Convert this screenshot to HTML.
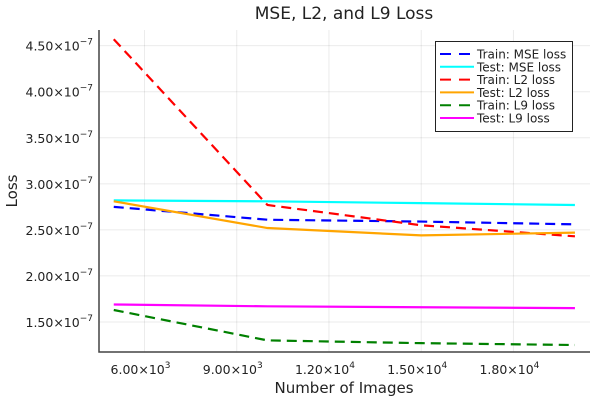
<!DOCTYPE html>
<html><head><meta charset="utf-8"><style>
body{margin:0;background:#fff;font-family:"DejaVu Sans","Liberation Sans",sans-serif}
svg text{fill:#222;font-family:"DejaVu Sans","Liberation Sans",sans-serif}
</style></head><body>
<svg id="c" width="600" height="400" xmlns="http://www.w3.org/2000/svg"></svg>
<script>
const xs=[5000,10000,15000,20000];
const trainMSE=[2.75,2.61,2.59,2.56];
const testMSE=[2.82,2.81,2.79,2.77];
const trainL2=[4.57,2.77,2.55,2.43];
const testL2=[2.81,2.52,2.44,2.47];
const trainL9=[1.63,1.30,1.27,1.25];
const testL9=[1.69,1.67,1.66,1.65];
const xTicks=[6000,9000,12000,15000,18000];
const xTickLabels=["6.00×10","9.00×10","1.20×10","1.50×10","1.80×10"];
const xTickExp=["3","3","4","4","4"];
const yTicks=[1.5,2.0,2.5,3.0,3.5,4.0,4.5];
const yTickLabels=["1.50×10","2.00×10","2.50×10","3.00×10","3.50×10","4.00×10","4.50×10"];
const L=99,R=590,T=30,B=352,xmin=4520,xmax=20490,ymin=1.174,ymax=4.67;
const X=v=>L+(v-xmin)/(xmax-xmin)*(R-L);
const Y=v=>B-(v-ymin)/(ymax-ymin)*(B-T);
const svg=document.getElementById('c');const NS='http://www.w3.org/2000/svg';
function mk(t,a,p){const e=document.createElementNS(NS,t);for(const k in a)e.setAttribute(k,a[k]);(p||svg).appendChild(e);return e;}
xTicks.forEach((v,i)=>{const g=mk('line',{x1:X(v),x2:X(v),y1:T,y2:B,stroke:'#000','stroke-opacity':0.08});

const t=mk('text',{x:X(v)-4,y:374,'font-size':12.5,'text-anchor':'middle'});t.textContent=xTickLabels[i];
const s=mk('tspan',{dy:-6,'font-size':9},t);s.textContent=xTickExp[i];
});
yTicks.forEach((v,i)=>{const g=mk('line',{x1:L,x2:R,y1:Y(v),y2:Y(v),stroke:'#000','stroke-opacity':0.08});

const t=mk('text',{x:93,y:Y(v)+5,'font-size':12.5,'text-anchor':'end'});t.textContent=yTickLabels[i];
const s=mk('tspan',{dy:-6,'font-size':9},t);s.textContent='−7';
});
const ax=mk('path',{d:`M${L} ${T}V${B}H${R}`,stroke:'#444','stroke-width':1.5,fill:'none'});

const series=[[trainMSE,'#0000ff',1,'Train: MSE loss','train-mse-line'],[testMSE,'#00ffff',0,'Test: MSE loss','test-mse-line'],
[trainL2,'#ff0000',1,'Train: L2 loss','train-l2-line'],[testL2,'#ffa500',0,'Test: L2 loss','test-l2-line'],
[trainL9,'#008000',1,'Train: L9 loss','train-l9-line'],[testL9,'#ff00ff',0,'Test: L9 loss','test-l9-line']];
series.forEach(s=>{const p=mk('polyline',{points:xs.map((x,i)=>X(x)+','+Y(s[0][i])).join(' '),fill:'none',stroke:s[1],'stroke-width':2.2});
if(s[2])p.setAttribute('stroke-dasharray','10 6');
});
const lg=mk('g',{});
mk('rect',{x:435.5,y:41.5,width:137,height:90,fill:'#fff',stroke:'#222','stroke-width':1},lg);
series.forEach((s,i)=>{const y=54+i*12.8;const l=mk('line',{x1:440,x2:474,y1:y,y2:y,stroke:s[1],'stroke-width':2},lg);
if(s[2])l.setAttribute('stroke-dasharray','11 8');
const t=mk('text',{x:477,y:y+4.5,'font-size':12},lg);t.textContent=s[3];
});
let t=mk('text',{x:344,y:19,'font-size':17,'text-anchor':'middle'});t.textContent='MSE, L2, and L9 Loss';

t=mk('text',{x:344,y:393,'font-size':15,'text-anchor':'middle'});t.textContent='Number of Images';

t=mk('text',{x:0,y:0,'font-size':15,'text-anchor':'middle',transform:'translate(17,191) rotate(-90)'});t.textContent='Loss';

</script>
</body></html>
